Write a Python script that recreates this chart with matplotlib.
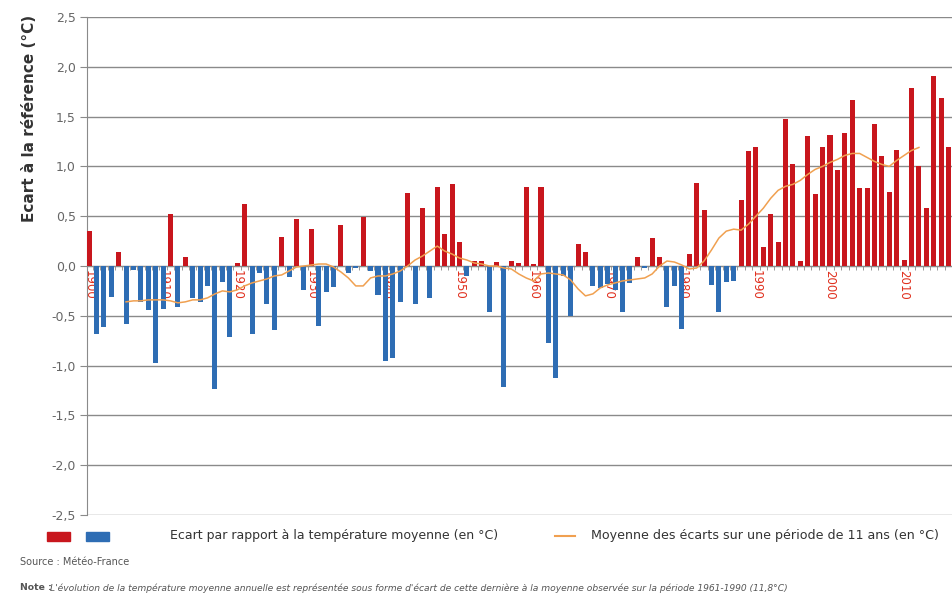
import matplotlib.pyplot as plt
from matplotlib.lines import Line2D
from matplotlib.patches import Rectangle
import numpy as np

# annual anomaly vs 1961-1990 mean (°C)
annees = list(range(1900, 2018))
ecarts = [
    0.35, -0.68, -0.61, -0.31, 0.14, -0.58, -0.04, -0.36, -0.44, -0.97,   # 1900
    -0.43, 0.52, -0.41, 0.09, -0.32, -0.36, -0.20, -1.23, -0.16, -0.71,   # 1910
    0.03, 0.62, -0.68, -0.07, -0.38, -0.64, 0.29, -0.11, 0.47, -0.24,     # 1920
    0.37, -0.60, -0.26, -0.21, 0.41, -0.07, -0.02, 0.49, -0.05, -0.29,    # 1930
    -0.95, -0.92, -0.36, 0.73, -0.38, 0.58, -0.32, 0.79, 0.32, 0.82,      # 1940
    0.24, -0.10, 0.05, 0.05, -0.46, 0.04, -1.21, 0.05, 0.03, 0.79,        # 1950
    0.02, 0.79, -0.77, -1.12, -0.10, -0.50, 0.22, 0.14, -0.20, -0.22,     # 1960
    -0.18, -0.24, -0.46, -0.17, 0.09, -0.02, 0.28, 0.09, -0.41, -0.20,    # 1970
    -0.63, 0.12, 0.83, 0.56, -0.19, -0.46, -0.16, -0.15, 0.66, 1.15,      # 1980
    1.19, 0.19, 0.52, 0.24, 1.48, 1.02, 0.05, 1.31, 0.72, 1.19,           # 1990
    1.32, 0.96, 1.34, 1.67, 0.78, 0.78, 1.43, 1.10, 0.74, 1.16,           # 2000
    0.06, 1.79, 1.00, 0.58, 1.91, 1.69, 1.19, 1.59,                       # 2010
]

# 11-year moving average
annees_moy = list(range(1905, 2013))
moyenne_11 = [
    -0.36, -0.35, -0.35, -0.34, -0.34,                                    # 1905
    -0.34, -0.35, -0.37, -0.36, -0.34, -0.34, -0.32, -0.28, -0.25, -0.26, # 1910
    -0.24, -0.20, -0.17, -0.15, -0.13, -0.10, -0.09, -0.05, -0.01, 0.00,  # 1920
    0.01, 0.02, 0.02, -0.01, -0.06, -0.12, -0.20, -0.20, -0.12, -0.10,    # 1930
    -0.10, -0.08, -0.05, 0.00, 0.06, 0.10, 0.15, 0.20, 0.15, 0.12,        # 1940
    0.08, 0.06, 0.03, 0.02, 0.00, 0.00, -0.02, -0.03, -0.08, -0.12,       # 1950
    -0.15, -0.08, -0.07, -0.08, -0.09, -0.14, -0.23, -0.30, -0.28, -0.22, # 1960
    -0.19, -0.17, -0.15, -0.14, -0.13, -0.12, -0.08, 0.00, 0.05, 0.04,    # 1970
    0.01, -0.03, -0.02, 0.05, 0.16, 0.28, 0.35, 0.37, 0.36, 0.42,         # 1980
    0.50, 0.58, 0.68, 0.76, 0.80, 0.82, 0.86, 0.92, 0.97, 1.00,           # 1990
    1.04, 1.07, 1.11, 1.13, 1.13, 1.09, 1.05, 1.02, 1.00, 1.06,           # 2000
    1.11, 1.16, 1.19,                                                     # 2010
]

annees_labels = [1900, 1910, 1920, 1930, 1940, 1950, 1960, 1970, 1980, 1990, 2000, 2010, 2017]

rouge = '#c8161d'
bleu = '#2e6db4'
orange = '#f0a050'

fig = plt.figure(figsize=(9.53, 5.93), dpi=100)
ax = fig.add_axes([87 / 953, 1 - 515 / 593, 872.3 / 953, 498 / 593])

couleurs = [rouge if v >= 0 else bleu for v in ecarts]
ax.bar(annees, ecarts, width=0.68, color=couleurs, edgecolor='none', zorder=3)
ax.plot(annees_moy, moyenne_11, color=orange, lw=1.1, zorder=4)

ax.set_xlim(1899.73, 2017.45)
ax.set_ylim(-2.5, 2.5)
ax.set_yticks(np.arange(-2.5, 2.51, 0.5))
ax.set_yticklabels([('%.1f' % t).replace('.', ',') for t in np.arange(-2.5, 2.51, 0.5)],
                   color='#666666', fontsize=9)
ax.grid(axis='y', color='#8a8a8a', lw=1, zorder=1)
ax.tick_params(axis='y', length=5, color='#8a8a8a', pad=3)

# x axis sits on the zero line
ax.spines['bottom'].set_position(('data', 0))
ax.spines['bottom'].set_color('#8a8a8a')
ax.spines['top'].set_visible(False)
ax.spines['right'].set_visible(False)
ax.spines['left'].set_color('#8a8a8a')
ax.set_xticks(annees_labels)
ax.set_xticklabels([str(a) for a in annees_labels], rotation=270, color='#e0301e', fontsize=8.5)
ax.set_xticks(np.arange(1900.5, 2017, 1), minor=True)
ax.tick_params(axis='x', which='major', length=0, pad=3)
ax.tick_params(axis='x', which='minor', length=3, color='#8a8a8a')
for lab in ax.get_xticklabels():
    lab.set_clip_on(False)

fig.text(30 / 953, 1 - 118 / 593, 'Ecart à la référence (°C)', rotation=90,
         ha='center', va='center', fontsize=11, fontweight='bold', color='#333333')

# legend drawn by hand
fig.patches.append(Rectangle((47 / 953, 1 - 541 / 593), 23 / 953, 9 / 593,
                             transform=fig.transFigure, color=rouge))
fig.patches.append(Rectangle((86 / 953, 1 - 541 / 593), 23 / 953, 9 / 593,
                             transform=fig.transFigure, color=bleu))
fig.text(170 / 953, 1 - 536 / 593, 'Ecart par rapport à la température moyenne (en °C)',
         fontsize=9, color='#333333', va='center')
fig.lines.append(Line2D([555 / 953, 575 / 953], [1 - 536 / 593, 1 - 536 / 593],
                        transform=fig.transFigure, color=orange, lw=1.5))
fig.text(591 / 953, 1 - 536 / 593, 'Moyenne des écarts sur une période de 11 ans (en °C)',
         fontsize=9.1, color='#333333', va='center')

fig.text(20 / 953, 1 - 562 / 593, 'Source : Météo-France', fontsize=7, color='#555555', va='center')
fig.text(20 / 953, 1 - 588 / 593, 'Note :', fontsize=6.7, fontweight='bold', color='#555555', va='center')
fig.text(50 / 953, 1 - 588 / 593,
         "L'évolution de la température moyenne annuelle est représentée sous forme d'écart de cette "
         "dernière à la moyenne observée sur la période 1961-1990 (11,8°C)",
         fontsize=6.6, style='italic', color='#555555', va='center')

fig.savefig('out.png', dpi=100)
